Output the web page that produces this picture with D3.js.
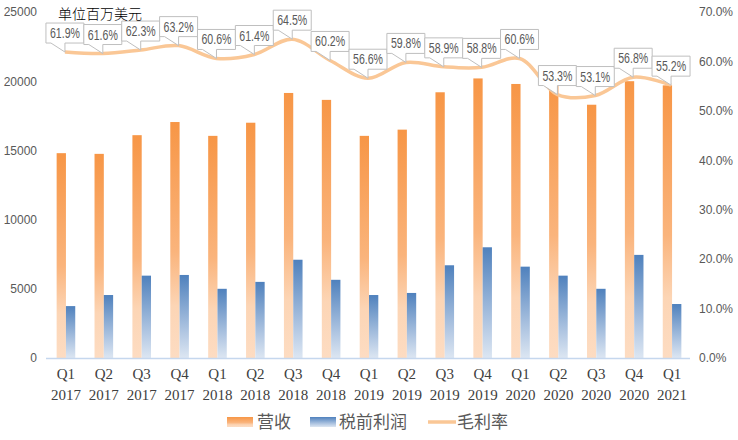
<!DOCTYPE html>
<html>
<head>
<meta charset="utf-8">
<script src="https://cdn.jsdelivr.net/npm/d3@7"></script>
<style>
  body { margin: 0; background: #fff; }
  svg { display: block; }
</style>
</head>
<body>
<script>
var width = 738,
    height = 440;

// data (Intel quarterly, millions USD)
var quarters = ["Q1", "Q2", "Q3", "Q4", "Q1", "Q2", "Q3", "Q4", "Q1", "Q2", "Q3", "Q4", "Q1", "Q2", "Q3", "Q4", "Q1"];
var years = ["2017", "2017", "2017", "2017", "2018", "2018", "2018", "2018", "2019", "2019", "2019", "2019", "2020", "2020", "2020", "2020", "2021"];
var revenue = [14800, 14750, 16100, 17050, 16050, 17000, 19150, 18650, 16050, 16500, 19200, 20200, 19800, 19700, 18300, 20000, 19700];
var pretax = [3750, 4550, 5950, 6000, 5000, 5500, 7100, 5650, 4550, 4700, 6700, 8000, 6600, 5950, 5000, 7450, 3900];
var margin = [61.9, 61.6, 62.3, 63.2, 60.6, 61.4, 64.5, 60.2, 56.6, 59.8, 58.9, 58.8, 60.6, 53.3, 53.1, 56.8, 55.2];
var leftTicks = [0, 5000, 10000, 15000, 20000, 25000];
var rightTicks = [0, 10, 20, 30, 40, 50, 60, 70];

var svg = d3.select("body").append("svg")
    .attr("width", width)
    .attr("height", height);

var defs = svg.append("defs");

var gOrange = defs.append("linearGradient").attr("id", "gOrange")
    .attr("x1", 0).attr("y1", 0).attr("x2", 0).attr("y2", 1);
gOrange.append("stop").attr("offset", "0%").attr("stop-color", "#f79646");
gOrange.append("stop").attr("offset", "55%").attr("stop-color", "#fab47c");
gOrange.append("stop").attr("offset", "78%").attr("stop-color", "#fcd5b5");
gOrange.append("stop").attr("offset", "100%").attr("stop-color", "#fddcc2");

var gBlue = defs.append("linearGradient").attr("id", "gBlue")
    .attr("x1", 0).attr("y1", 0).attr("x2", 0).attr("y2", 1);
gBlue.append("stop").attr("offset", "0%").attr("stop-color", "#4f81bd");
gBlue.append("stop").attr("offset", "70%").attr("stop-color", "#b3c8e3");
gBlue.append("stop").attr("offset", "100%").attr("stop-color", "#dce6f2");

var idx = d3.range(quarters.length);

var x = d3.scaleBand()
    .domain(idx)
    .range([46, 690]);

var y = d3.scaleLinear()
    .domain([0, 25000])
    .range([358, 12]);

var y2 = d3.scaleLinear()
    .domain([0, 70])
    .range([358, 12]);

var barW = 9.3;
function cx(i) { return x(i) + x.bandwidth() / 2 + 1; }

// left axis
svg.append("g")
    .attr("transform", "translate(37,0)")
    .call(d3.axisLeft(y).tickValues(leftTicks).tickSize(0).tickPadding(0).tickFormat(d3.format("d")))
    .call(function(g) {
        g.select(".domain").remove();
        g.selectAll("text")
            .attr("fill", "#595959")
            .style("font-family", "Liberation Sans, Arial, sans-serif")
            .style("font-size", "12px");
    });

// right axis
svg.append("g")
    .attr("transform", "translate(699,0)")
    .call(d3.axisRight(y2).tickValues(rightTicks).tickSize(0).tickPadding(0)
        .tickFormat(function(d) { return d3.format(".1f")(d) + "%"; }))
    .call(function(g) {
        g.select(".domain").remove();
        g.selectAll("text")
            .attr("fill", "#595959")
            .style("font-family", "Liberation Sans, Arial, sans-serif")
            .style("font-size", "12px");
    });

// bars
svg.append("g").selectAll("rect")
    .data(revenue)
    .enter().append("rect")
    .attr("x", function(d, i) { return cx(i) - barW; })
    .attr("y", function(d) { return y(d); })
    .attr("width", barW)
    .attr("height", function(d) { return y(0) - y(d); })
    .attr("fill", "url(#gOrange)");

svg.append("g").selectAll("rect")
    .data(pretax)
    .enter().append("rect")
    .attr("x", function(d, i) { return cx(i); })
    .attr("y", function(d) { return y(d); })
    .attr("width", barW)
    .attr("height", function(d) { return y(0) - y(d); })
    .attr("fill", "url(#gBlue)");

// baseline
svg.append("line")
    .attr("x1", 46).attr("x2", 690)
    .attr("y1", y(0) + 0.5).attr("y2", y(0) + 0.5)
    .attr("stroke", "#c5d7ee")
    .attr("stroke-width", 1.5);

// x labels
var xl = svg.append("g")
    .style("font-family", "Liberation Serif, serif")
    .style("font-size", "15px")
    .attr("fill", "#404040")
    .attr("text-anchor", "middle");
xl.selectAll(".q").data(quarters).enter().append("text")
    .attr("x", function(d, i) { return x(i) + x.bandwidth() / 2 + 1; })
    .attr("y", 379)
    .text(function(d) { return d; });
xl.selectAll(".yr").data(years).enter().append("text")
    .attr("x", function(d, i) { return x(i) + x.bandwidth() / 2 + 1; })
    .attr("y", 400)
    .text(function(d) { return d; });

// margin line
var line = d3.line()
    .x(function(d, i) { return cx(i) - 1; })
    .y(function(d) { return y2(d); })
    .curve(d3.curveCatmullRom.alpha(0.5));

svg.append("path")
    .datum(margin)
    .attr("fill", "none")
    .attr("stroke", "#fac796")
    .attr("stroke-width", 3.5)
    .attr("d", line);

// callout labels
var callouts = svg.append("g").selectAll("g")
    .data(margin)
    .enter().append("g");

callouts.append("path")
    .attr("fill", "#fff")
    .attr("stroke", "#bfbfbf")
    .attr("stroke-width", 1)
    .attr("d", function(d, i) {
        var px = cx(i) - 1, py = y2(d);
        var l = px - 19, r = px + 19, t = py - 29, b = py - 9;
        return "M" + l + "," + t + "H" + r + "V" + b + "H" + px +
            "L" + px + "," + py + "L" + (l + 5) + "," + b + "H" + l + "Z";
    });

callouts.append("text")
    .attr("x", function(d, i) { return cx(i) - 1; })
    .attr("y", function(d) { return y2(d) - 14; })
    .attr("text-anchor", "middle")
    .attr("fill", "#595959")
    .style("font-family", "Liberation Sans Narrow, Liberation Sans, sans-serif")
    .style("font-size", "14.5px")
    .attr("textLength", 30)
    .attr("lengthAdjust", "spacingAndGlyphs")
    .text(function(d) { return d3.format(".1f")(d) + "%"; });

// unit note
svg.append("text")
    .attr("x", 58)
    .attr("y", 19)
    .attr("fill", "#000")
    .style("font-family", "Noto Sans CJK SC, sans-serif")
    .style("font-size", "14px")
    .style("font-weight", "300")
    .text("单位百万美元");

// legend
var legend = svg.append("g")
    .style("font-family", "Noto Sans CJK SC, sans-serif")
    .style("font-size", "17px")
    .attr("fill", "#595959");

legend.append("rect").attr("x", 227).attr("y", 417).attr("width", 26).attr("height", 10).attr("fill", "url(#gOrange)");
legend.append("text").attr("x", 257).attr("y", 428).text("营收");
legend.append("rect").attr("x", 310).attr("y", 417).attr("width", 26).attr("height", 10).attr("fill", "url(#gBlue)");
legend.append("text").attr("x", 339).attr("y", 428).text("税前利润");
legend.append("line").attr("x1", 428).attr("x2", 456).attr("y1", 422).attr("y2", 422)
    .attr("stroke", "#fac796").attr("stroke-width", 3.5);
legend.append("text").attr("x", 457).attr("y", 428).text("毛利率");
</script>
</body>
</html>
